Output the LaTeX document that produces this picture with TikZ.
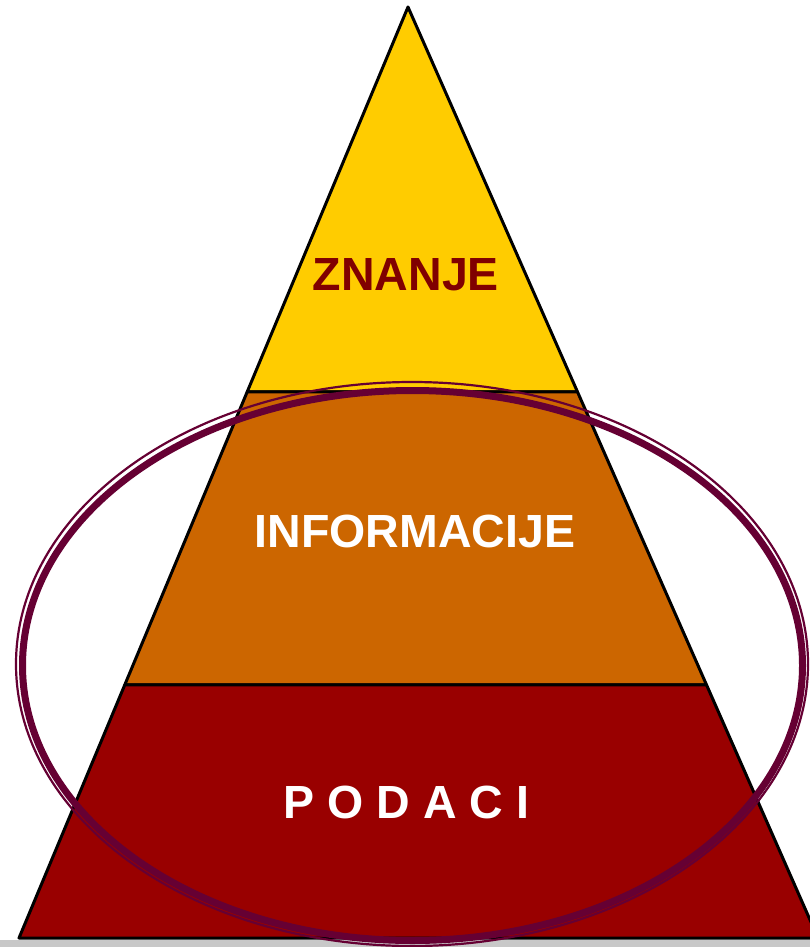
\documentclass[tikz,border=0pt]{standalone}
\usepackage{fontspec}
\setmainfont{Liberation Sans}
\usetikzlibrary{calc}
\definecolor{myellow}{HTML}{FFCC00}
\definecolor{morange}{HTML}{CC6600}
\definecolor{mred}{HTML}{990000}
\definecolor{mdark}{HTML}{800000}
\definecolor{mplum}{HTML}{660033}
\definecolor{mgray}{HTML}{C8C8C8}
\tikzset{lvl/.style = {draw=black, line width=3, line join=round}}
\tikzset{ring/.style = {draw=mplum}}
\tikzset{txt/.style = {inner sep=0, anchor=base, font=\fontsize{46.5}{50}\selectfont\bfseries}}

\begin{document}
\begin{tikzpicture}[x=1pt, y=-1pt]
          \useasboundingbox (0,0) rectangle (810,947);
          \clip (0,0) rectangle (810,947);

          \coordinate (top) at (408,7);
          \coordinate (bl) at (19,938);
          \coordinate (br) at (818,938);
          \coordinate (l1) at ($(top)!0.4135!(bl)$);
          \coordinate (r1) at ($(top)!0.4135!(br)$);
          \coordinate (l2) at ($(top)!0.7282!(bl)$);
          \coordinate (r2) at ($(top)!0.7282!(br)$);

          \fill [mgray] (0,940) rectangle (810,947);

          \draw [lvl, fill=myellow] (top) -- (r1) -- (l1) -- cycle;
          \draw [lvl, fill=morange] (l1) -- (r1) -- (r2) -- (l2) -- cycle;
          \draw [lvl, fill=mred] (l2) -- (r2) -- (br) -- (bl) -- cycle;

          \draw [ring, line width=2.2] (412,664) ellipse [x radius=396, y radius=282];
          \draw [ring, line width=7] (412.5,665.5) ellipse [x radius=390, y radius=275];

          \node [txt, mdark] (znanje) at (406,290) {ZNANJE};
          \node [txt, white] (informacije) at (415,547) {INFORMACIJE};
          \node [txt, white] (podaci) at (406.5,818) {P O D A C I};
        \end{tikzpicture}
\end{document}
